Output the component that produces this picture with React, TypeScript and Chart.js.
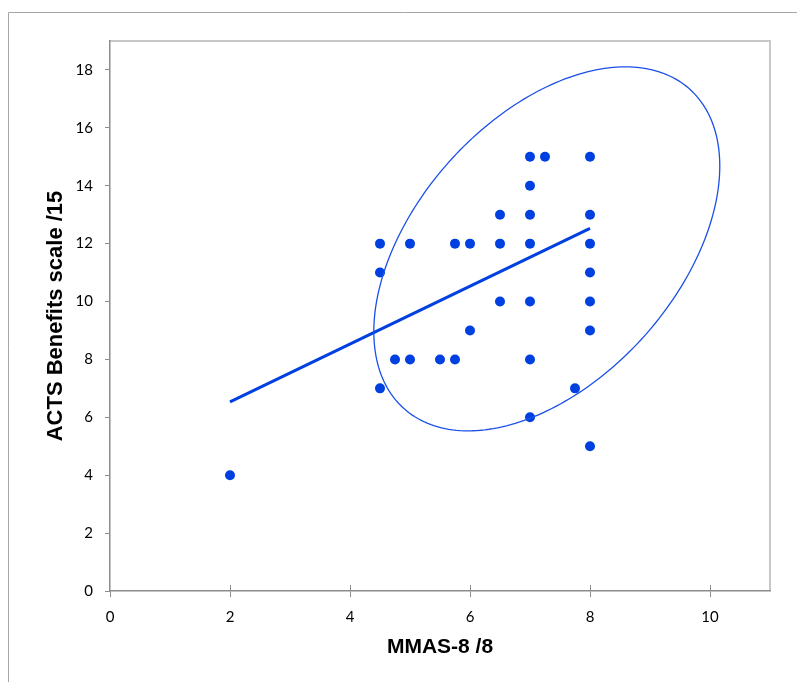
import React, { useEffect, useRef } from "react";
import { Chart, registerables } from "chart.js";

Chart.register(...registerables);

// ---- data ----
const mmasScores: number[] = [
  2, 4.5, 4.5, 4.5, 4.75, 5, 5, 5.5, 5.75, 5.75, 6, 6, 6.5, 6.5, 6.5,
  7, 7, 7, 7, 7, 7, 7, 7.25, 7.75, 8, 8, 8, 8, 8, 8, 8,
];
const actsScores: number[] = [
  4, 12, 11, 7, 8, 12, 8, 8, 12, 8, 12, 9, 13, 12, 10,
  15, 14, 13, 12, 10, 8, 6, 15, 7, 15, 13, 12, 11, 10, 9, 5,
];
const trendX: number[] = [2, 8];
const trendY: number[] = [6.53, 12.53];
// confidence ellipse: centre and two conjugate semi-axes, in data units
const ellipseCenter: number[] = [7.28, 11.82];
const ellipseAxisU: number[] = [2.883, 2.858];
const ellipseAxisV: number[] = [0, -5.6];

const xTitle = "MMAS-8 /8";
const yTitle = "ACTS Benefits scale /15";

const BLUE = "#0040e0";

export default function App() {
  const ref = useRef<HTMLCanvasElement | null>(null);

  useEffect(() => {
    document.body.style.overflow = "hidden";
    const canvas = ref.current;
    if (!canvas) return;

    const framePlugin = {
      id: "frame",
      beforeDraw(chart: any) {
        const { ctx, chartArea } = chart;
        ctx.save();
        ctx.strokeStyle = "#a6a6a6";
        ctx.lineWidth = 1;
        ctx.beginPath();
        ctx.moveTo(8.5, 700);
        ctx.lineTo(8.5, 12.5);
        ctx.lineTo(800, 12.5);
        ctx.stroke();
        ctx.strokeStyle = "#c8c8c8";
        ctx.lineWidth = 2;
        ctx.beginPath();
        ctx.moveTo(chartArea.left, chartArea.top);
        ctx.lineTo(chartArea.right, chartArea.top);
        ctx.lineTo(chartArea.right, chartArea.bottom);
        ctx.stroke();
        ctx.restore();
      },
      afterDraw(chart: any) {
        const { ctx, chartArea } = chart;
        const xs = chart.scales.x;
        ctx.save();
        ctx.strokeStyle = "#8c8c8c";
        ctx.lineWidth = 1;
        xs.ticks.forEach((t: any) => {
          if (t.value === 0) return;
          const px = Math.round(xs.getPixelForValue(t.value)) + 0.5;
          ctx.beginPath();
          ctx.moveTo(px, chartArea.bottom - 6);
          ctx.lineTo(px, chartArea.bottom);
          ctx.stroke();
        });
        ctx.restore();
      },
    };

    const ellipsePlugin = {
      id: "ellipse",
      afterDatasetsDraw(chart: any) {
        const { ctx } = chart;
        const xs = chart.scales.x;
        const ys = chart.scales.y;
        ctx.save();
        ctx.strokeStyle = "#1a50e8";
        ctx.lineWidth = 1.3;
        ctx.beginPath();
        const n = 240;
        for (let i = 0; i <= n; i++) {
          const t = (i / n) * Math.PI * 2;
          const vx = ellipseCenter[0] + ellipseAxisU[0] * Math.cos(t) + ellipseAxisV[0] * Math.sin(t);
          const vy = ellipseCenter[1] + ellipseAxisU[1] * Math.cos(t) + ellipseAxisV[1] * Math.sin(t);
          const px = xs.getPixelForValue(vx);
          const py = ys.getPixelForValue(vy);
          if (i === 0) ctx.moveTo(px, py);
          else ctx.lineTo(px, py);
        }
        ctx.closePath();
        ctx.stroke();
        ctx.restore();
      },
    };

    const tickFont = { family: "Lato, 'Open Sans', sans-serif", size: 15 };

    const chart = new Chart(canvas, {
      type: "scatter",
      data: {
        datasets: [
          {
            type: "scatter",
            data: mmasScores.map((x, i) => ({ x, y: actsScores[i] })),
            backgroundColor: BLUE,
            borderWidth: 0,
            pointRadius: 5,
          },
          {
            type: "line",
            data: trendX.map((x, i) => ({ x, y: trendY[i] })),
            borderColor: BLUE,
            borderWidth: 3,
            pointRadius: 0,
            fill: false,
            tension: 0,
          },
        ],
      },
      options: {
        responsive: false,
        animation: false,
        devicePixelRatio: 1,
        layout: { padding: { top: 41, right: 27, left: 0, bottom: 0 } },
        plugins: {
          legend: { display: false },
          tooltip: { enabled: false },
          title: { display: false },
        },
        scales: {
          x: {
            type: "linear",
            min: 0,
            max: 11,
            ticks: {
              stepSize: 2,
              includeBounds: false,
              color: "#000",
              font: tickFont,
              padding: 11,
              maxRotation: 0,
            },
            grid: {
              display: true,
              drawOnChartArea: false,
              drawTicks: true,
              tickLength: 6,
              color: "#8c8c8c",
            },
            border: { display: true, color: "#8c8c8c", width: 1.5 },
            title: {
              display: true,
              text: xTitle,
              color: "#000",
              font: { family: "'Liberation Sans', Arial, sans-serif", size: 21, weight: "bold" },
              padding: { top: 0, bottom: 22 },
            },
            afterFit(scale: any) {
              scale.height = 91;
            },
          },
          y: {
            type: "linear",
            min: 0,
            max: 19,
            ticks: {
              stepSize: 2,
              includeBounds: false,
              color: "#000",
              font: tickFont,
              padding: 12,
            },
            grid: {
              display: true,
              drawOnChartArea: false,
              drawTicks: true,
              tickLength: 5,
              color: "#8c8c8c",
            },
            border: { display: true, color: "#8c8c8c", width: 1.5 },
            title: {
              display: true,
              text: yTitle,
              color: "#000",
              font: { family: "'Liberation Sans', Arial, sans-serif", size: 22, weight: "bold" },
              padding: { top: 43, bottom: 0 },
            },
            afterFit(scale: any) {
              scale.width = 110;
            },
          },
        },
      } as any,
      plugins: [framePlugin, ellipsePlugin],
    });

    return () => chart.destroy();
  }, []);

  return (
    <div style={{ position: "fixed", left: 0, top: 0, width: 797, height: 682, background: "#fff" }}>
      <canvas ref={ref} width={797} height={682} style={{ display: "block" }} />
    </div>
  );
}
